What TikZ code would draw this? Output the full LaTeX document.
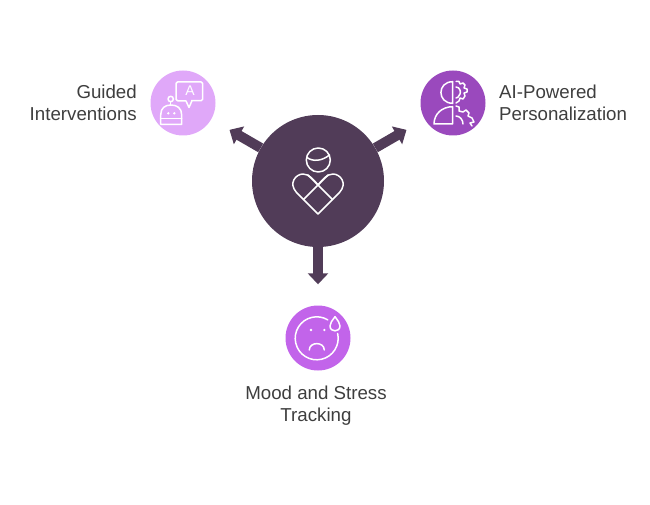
\documentclass[tikz,border=0pt]{standalone}
\usepackage{fontspec}
\setmainfont{Liberation Sans}
\usetikzlibrary{arrows.meta}
\definecolor{hubPlum}{RGB}{81,60,88}
\definecolor{guidedLilac}{RGB}{224,168,249}
\definecolor{aiPurple}{RGB}{154,73,189}
\definecolor{moodViolet}{RGB}{194,100,234}
\definecolor{labelGrey}{RGB}{62,62,62}
\tikzset{
	hub/.style={circle, fill=hubPlum, minimum size=132pt, inner sep=0pt},
	badge/.style={circle, minimum size=65pt, inner sep=0pt},
	flow/.style={-{Triangle[length=11pt, width=20pt]}, line width=10pt, hubPlum, shorten >=21pt},
	icon/.style={draw=white, line width=1.5pt, line join=round, line cap=round},
	caption/.style={labelGrey, font=\fontsize{18.7}{22}\selectfont, inner sep=0pt, align=center}
}

\begin{document}
\begin{tikzpicture}[x=1pt, y=-1pt]
	\useasboundingbox (0,0) rectangle (650,505);
	
	% Circles
	\node[hub] (wellbeing) at (318,181) {};
	\node[badge, fill=guidedLilac] (guided) at (183,103) {};
	\node[badge, fill=aiPurple] (personal) at (453,103) {};
	\node[badge, fill=moodViolet] (mood) at (318,338) {};
	
	% Arrows
	\draw[flow] (wellbeing) -- (guided);
	\draw[flow] (wellbeing) -- (personal);
	\draw[flow] (wellbeing) -- (mood);
	
	% Labels
	\node[caption, align=right, anchor=east] (guidedtext) at (137,103) {Guided\\Interventions};
	\node[caption, align=left, anchor=west] (personaltext) at (499,103) {AI-Powered\\Personalization};
	\node[caption] (moodtext) at (316,405.5) {Mood and Stress\\Tracking};
	
	% Hub icon
	\draw[icon] (318.3,160) circle[radius=12];
	\draw[icon] (307,157.5) .. controls (313,162) and (322,161) .. (329.5,155);
	\draw[icon] (318,214) -- (296.5,192.5) .. controls (288,183) and (296,174) .. (303,174) .. controls (309,174) and (314,180) .. (318,185) .. controls (322,180) and (327,174) .. (333,174) .. controls (340,174) and (348,183) .. (339.5,192.5) -- cycle;
	\draw[icon] (303.5,199.5) -- (318,185) -- (332.5,199.5);
	\draw[icon] (318,185) -- (308,175);
	\draw[icon] (318,185) -- (328,175);
	
	% Robot and speech bubble
	\draw[icon, rounded corners=1.5pt] (176,82) rectangle (202.7,100.7);
	\fill[guidedLilac] (178,99) rectangle (191,102);
	\draw[icon] (178,101) -- (186,101) -- (189,107.5) -- (192,100.7);
	\node[white, font=\fontsize{14}{14}\selectfont, inner sep=0pt] (letter) at (190,91) {A};
	\draw[icon] (170.7,99) circle[radius=2.7];
	\draw[icon] (170.7,101.7) -- (170.7,105);
	\draw[icon] (160.7,124.3) -- (160.7,115) .. controls (160.7,108) and (165,105) .. (171,105) .. controls (177,105) and (181.7,108) .. (181.7,115) -- (181.7,124.3) -- cycle;
	\draw[icon] (160.7,118.3) -- (181.7,118.3);
	\fill[white] (168.3,113.3) circle[radius=1.3];
	\fill[white] (174.3,113.3) circle[radius=1.3];
	
	% Head and gears
	\draw[icon] (452.7,81.7) .. controls (437,81.7) and (437,103.3) .. (452.7,103.3) -- cycle;
	\draw[icon] (452.7,106.7) -- (452.7,124) -- (434,124) .. controls (434,114) and (442,106.7) .. (452.7,106.7);
	\draw[icon] (456,81.5) -- (459,81.5) -- (460,84) -- (463,83) -- (465,85) -- (464,88) -- (467,89) -- (467,92) -- (464,93) -- (465,96) -- (463,99) -- (460,98) -- (459,101) -- (456,103);
	\draw[icon] (456,87) .. controls (460,87) and (461,92) .. (460,94) .. controls (459,97) and (457,98) .. (456,98);
	\draw[icon] (456,106) -- (459,107) -- (459,111) -- (463,112) -- (466,110) -- (469,113) -- (468,116) -- (472,118) -- (474,122) -- (470,123) -- (472,126);
	\draw[icon] (456,116) .. controls (460,116) and (463,120) .. (463,124);
	
	% Sad face
	\draw[icon] (316.7,338.3) ++(-13:21.5) arc[start angle=-13, end angle=301, radius=21.5];
	\draw[icon] (335,316.7) .. controls (338,321) and (340,323) .. (340,326) .. controls (340,332.5) and (330,332.5) .. (330,326) .. controls (330,323) and (332,321) .. (335,316.7);
	\fill[white] (311,330) circle[radius=1.3];
	\fill[white] (324.3,330) circle[radius=1.3];
	\draw[icon] (309.3,350) .. controls (309.3,341.5) and (324.3,341.5) .. (324.3,350);
\end{tikzpicture}
\end{document}
